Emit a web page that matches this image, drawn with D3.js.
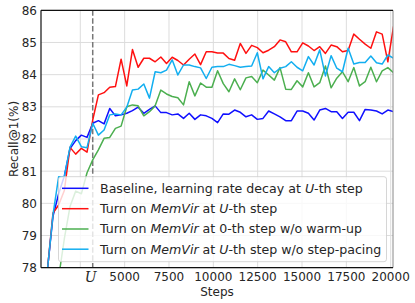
<!DOCTYPE html>
<html><head><meta charset="utf-8">
<script src="https://cdn.jsdelivr.net/npm/d3@7"></script>
<style>html,body{margin:0;padding:0;background:#fff;}svg{display:block;font-family:"DejaVu Sans",sans-serif;}</style>
</head><body>
<svg id="c" width="415" height="303"></svg>
<script>
const steps = [320,640,960,1280,1600,1920,2240,2560,2880,3200,3520,3840,4160,4480,4800,5120,5440,5760,6080,6400,6720,7040,7360,7680,8000,8320,8640,8960,9280,9600,9920,10240,10560,10880,11200,11520,11840,12160,12480,12800,13120,13440,13760,14080,14400,14720,15040,15360,15680,16000,16320,16640,16960,17280,17600,17920,18240,18560,18880,19200,19520,19840,20160];
const baseline = [76.0,77.9,79.6,80.3,80.85,81.7,81.95,82.12,82.05,82.49,82.57,82.47,82.95,82.72,82.75,82.80,82.88,82.99,82.80,82.92,83.03,82.82,82.82,82.75,82.78,82.64,82.80,82.61,82.75,82.72,82.64,82.51,82.78,82.77,82.90,82.83,82.69,82.75,82.61,82.64,82.87,82.78,82.69,82.57,82.57,82.87,82.87,82.80,82.59,82.90,82.95,82.85,82.85,82.64,82.83,82.83,82.57,82.92,82.90,82.87,82.78,82.90,82.85];
const memvirU = [76.0,77.9,79.7,79.95,80.4,81.74,81.53,81.71,81.59,82.59,83.37,83.44,83.61,83.63,84.48,83.65,84.78,84.23,84.51,84.51,84.40,84.55,84.35,84.54,84.44,84.30,84.48,84.64,84.31,84.71,84.71,84.67,84.67,84.50,84.45,84.97,84.66,84.91,84.84,84.68,84.76,84.87,85.08,85.02,84.71,84.71,84.99,84.89,84.75,84.87,84.66,84.92,84.87,84.71,84.75,85.26,85.10,84.95,84.82,85.33,85.26,84.40,85.50];
const memvir0 = [74.5,75.5,76.6,77.7,78.9,79.9,80.38,80.30,80.95,81.35,81.66,82.02,82.05,82.33,82.40,83.0,83.06,83.03,82.72,82.85,83.03,83.52,83.40,83.32,83.28,83.06,83.78,83.34,83.74,83.61,83.61,84.12,83.72,83.47,83.87,83.53,83.90,83.94,83.75,84.14,83.99,83.83,84.22,83.55,83.54,83.81,83.62,84.06,83.62,83.75,84.27,83.59,83.89,84.09,83.78,84.22,83.65,83.78,84.23,83.78,84.12,84.22,84.06];
const memvirNoPacing = [76.0,77.9,79.65,80.83,80.83,81.75,82.09,81.76,81.73,82.49,82.12,82.28,82.75,82.78,82.75,82.99,83.52,83.55,83.71,83.27,84.09,84.06,84.14,84.46,83.99,84.30,84.30,84.25,84.21,83.88,84.23,84.25,84.25,84.32,84.28,84.23,84.25,84.27,84.68,83.87,84.25,84.06,84.20,84.25,84.40,84.23,84.12,84.56,84.30,84.77,83.96,84.59,84.20,84.09,84.82,84.33,84.38,84.38,84.58,84.37,84.33,84.61,84.51];
const U = 3200;
const xGridTicks = [2500,5000,7500,10000,12500,15000,17500,20000];
const xTickLabels = ["","5000","7500","10000","12500","15000","17500","20000"];
const yTicks = [78,79,80,81,82,83,84,85,86];
const seriesNames = [
  [["Baseline, learning rate decay at ",false],["U",true],["-th step",false]],
  [["Turn on ",false],["MemVir",true],[" at ",false],["U",true],["-th step",false]],
  [["Turn on ",false],["MemVir",true],[" at 0-th step w/o warm-up",false]],
  [["Turn on ",false],["MemVir",true],[" at ",false],["U",true],["-th step w/o step-pacing",false]]
];
const seriesData = [baseline, memvirU, memvir0, memvirNoPacing];
const colors = ["#1010ff","#ff1010","#4caf50","#12aef0"];

const svg = d3.select("#c");
const L=41,R=393,T=10.3,B=267.7;
const x = d3.scaleLinear().domain([284,20130]).range([L,R]);
const y = d3.scaleLinear().domain([78,86]).range([B,T]);

svg.append("defs").append("clipPath").attr("id","clip").append("rect")
  .attr("x",L).attr("y",T).attr("width",R-L).attr("height",B-T);

const grid = svg.append("g").attr("stroke","#dddddd").attr("stroke-width",1);
yTicks.forEach(v=>grid.append("line").attr("x1",L).attr("x2",R).attr("y1",y(v)).attr("y2",y(v)));
xGridTicks.forEach(v=>grid.append("line").attr("x1",x(v)).attr("x2",x(v)).attr("y1",T).attr("y2",B));

svg.append("line").attr("x1",x(U)).attr("x2",x(U)).attr("y1",T).attr("y2",B)
  .attr("stroke","#777").attr("stroke-width",1.5).attr("stroke-dasharray","5.5,2.4");

const line = d3.line().x((d,i)=>x(steps[i])).y(d=>y(d));
const lg = svg.append("g").attr("clip-path","url(#clip)");
seriesData.forEach((s,i)=>{
  lg.append("path").datum(s).attr("d",line).attr("fill","none")
    .attr("stroke",colors[i]).attr("stroke-width",1.5).attr("stroke-linejoin","round");
});

// spines
svg.append("line").attr("x1",R).attr("x2",R).attr("y1",T).attr("y2",B).attr("stroke","#888").attr("stroke-width",1);
svg.append("line").attr("x1",L).attr("x2",R).attr("y1",T).attr("y2",T).attr("stroke","#111").attr("stroke-width",1.2);
svg.append("line").attr("x1",L).attr("x2",R).attr("y1",B).attr("y2",B).attr("stroke","#111").attr("stroke-width",1.2);
svg.append("line").attr("x1",L).attr("x2",L).attr("y1",T).attr("y2",B).attr("stroke","#111").attr("stroke-width",1.2);

// tick labels
const tc = "#262626";
yTicks.forEach(v=>svg.append("text").attr("x",37).attr("y",y(v)+4.4).attr("text-anchor","end")
  .attr("font-size",12).attr("fill",tc).text(v));
xGridTicks.forEach((v,i)=>{ if(xTickLabels[i]) svg.append("text").attr("x",x(v)).attr("y",280.5)
  .attr("text-anchor","middle").attr("font-size",12).attr("fill",tc).text(xTickLabels[i]); });
svg.append("text").attr("x",x(U)-2).attr("y",281.5).attr("text-anchor","middle")
  .attr("font-size",14).attr("font-style","italic").attr("font-family","DejaVu Serif").attr("fill",tc).text("U");

svg.append("text").attr("x",(L+R)/2).attr("y",295.5).attr("text-anchor","middle").attr("font-size",12).attr("fill",tc).text("Steps");
svg.append("text").attr("transform","translate(18,139) rotate(-90)").attr("text-anchor","middle")
  .attr("font-size",12).attr("fill",tc).text("Recall@1(%)");

// legend
const leg = svg.append("g");
leg.append("rect").attr("x",58.5).attr("y",176.7).attr("width",328).attr("height",85).attr("rx",2.5)
  .attr("fill","#fff").attr("fill-opacity",0.8).attr("stroke","#cccccc").attr("stroke-width",0.8);
const rowY = [188.3,208.7,229,249.2];
seriesNames.forEach((parts,i)=>{
  leg.append("line").attr("x1",62).attr("x2",88.5).attr("y1",rowY[i]).attr("y2",rowY[i])
    .attr("stroke",colors[i]).attr("stroke-width",1.5);
  const t = leg.append("text").attr("x",100).attr("y",rowY[i]+4.4).attr("font-size",12.6).attr("fill",tc);
  parts.forEach(p=>t.append("tspan").attr("font-style",p[1]?"italic":"normal").text(p[0]));
});
</script>
</body></html>
